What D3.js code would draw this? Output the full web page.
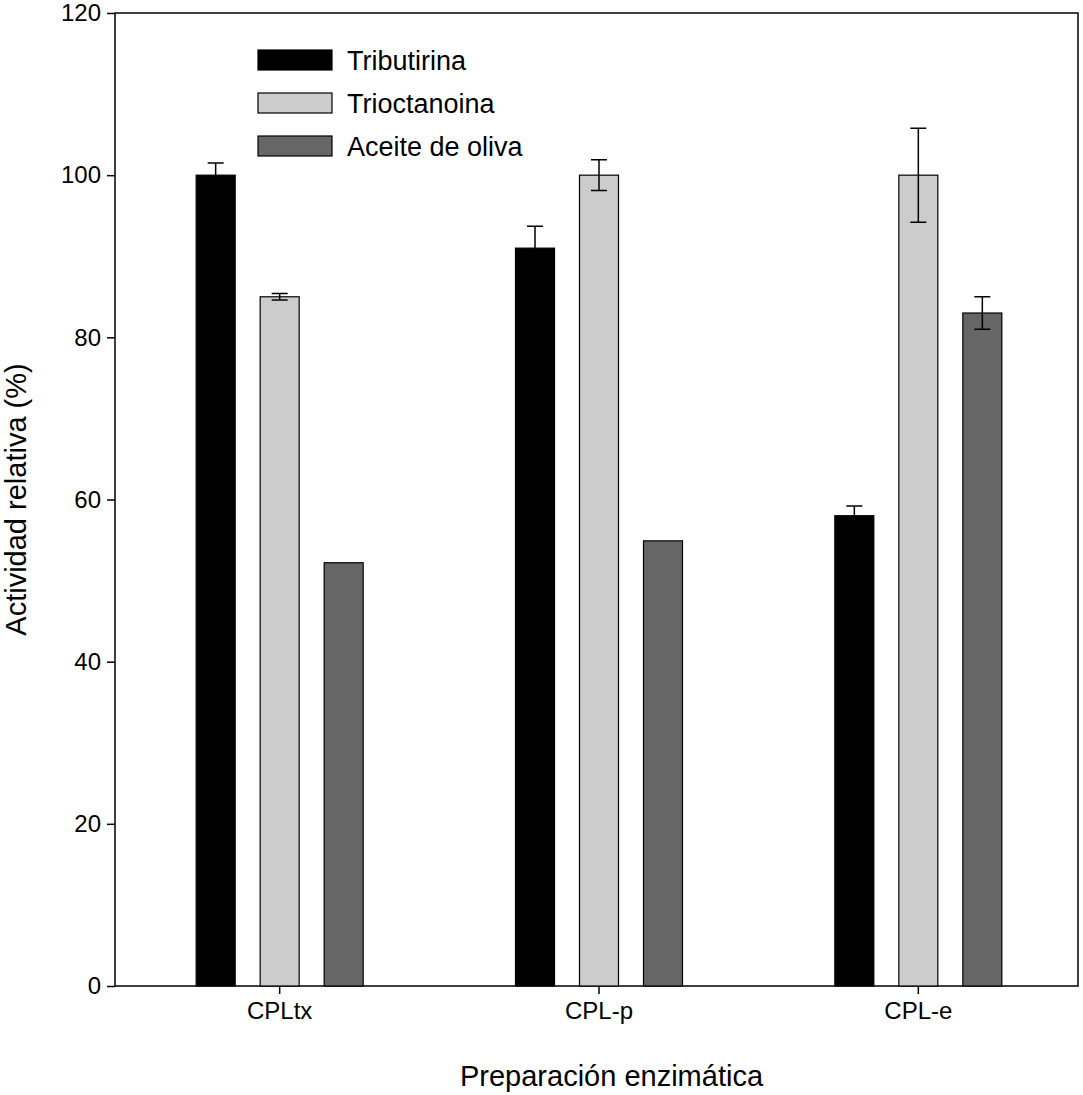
<!DOCTYPE html>
<html><head><meta charset="utf-8">
<script src="https://cdn.jsdelivr.net/npm/d3@7"></script>
<style>body{margin:0;background:#fff}text{font-family:Arial,"Liberation Sans",sans-serif}</style>
</head><body><svg></svg>
<script>
const categories = ["CPLtx", "CPL-p", "CPL-e"];
const seriesNames = ["Tributirina", "Trioctanoina", "Aceite de oliva"];
const colors = ["#000000", "#cccccc", "#666666"];
const values = [
  [100, 91, 58],
  [85, 100, 100],
  [52.2, 54.9, 83]
];
const errors = [
  [1.5, 2.7, 1.2],
  [0.4, 1.9, 5.8],
  [0, 0, 2]
];
const yTicks = [0, 20, 40, 60, 80, 100, 120];

const W = 1083, H = 1095;
const svg = d3.select("svg").attr("width", W).attr("height", H);
const mLeft = 115, mRight = 1078, mTop = 13, mBottom = 986;

const x = d3.scaleBand().domain(categories).range([120, mRight]);
const y = d3.scaleLinear().domain([0, 120]).range([mBottom, mTop]);
const offset = d3.scaleLinear().domain([0, 2]).range([-64, 64]);
const bw = 39;

svg.append("rect").attr("x", mLeft).attr("y", mTop).attr("width", mRight - mLeft).attr("height", mBottom - mTop)
  .attr("fill", "none").attr("stroke", "#000").attr("stroke-width", 1.5);

seriesNames.forEach((s, si) => {
  const g = svg.append("g");
  categories.forEach((c, ci) => {
    const cx = x(c) + x.bandwidth() / 2 + offset(si);
    const v = values[si][ci], e = errors[si][ci];
    g.append("rect").attr("x", cx - bw / 2).attr("y", y(v)).attr("width", bw).attr("height", y(0) - y(v))
      .attr("fill", colors[si]).attr("stroke", "#000").attr("stroke-width", 1.2);
    if (e > 0) {
      g.append("path").attr("d", `M${cx},${y(v - e)}V${y(v + e)}M${cx - 8},${y(v + e)}H${cx + 8}M${cx - 8},${y(v - e)}H${cx + 8}`)
        .attr("stroke", "#000").attr("stroke-width", 1.5).attr("fill", "none");
    }
  });
});

const yAxis = svg.append("g").attr("transform", `translate(${mLeft},0)`)
  .call(d3.axisLeft(y).tickValues(yTicks).tickSize(8).tickPadding(6));
const xAxis = svg.append("g").attr("transform", `translate(0,${mBottom})`)
  .call(d3.axisBottom(x).tickSize(8).tickPadding(8));
[yAxis, xAxis].forEach(a => {
  a.select(".domain").remove();
  a.selectAll("line").attr("stroke-width", 1.5);
  a.selectAll("text").attr("font-size", 24).attr("fill", "#000")
    .style("font-family", "Arial, 'Liberation Sans', sans-serif");
});

svg.append("text").attr("x", (mLeft + mRight) / 2 + 15).attr("y", 1086).attr("text-anchor", "middle")
  .attr("font-size", 29).text("Preparación enzimática");
svg.append("text").attr("transform", `translate(26,${(mTop + mBottom) / 2})rotate(-90)`).attr("text-anchor", "middle")
  .attr("font-size", 29).text("Actividad relativa (%)");

const leg = svg.append("g").attr("transform", "translate(258,50)");
seriesNames.forEach((s, i) => {
  leg.append("rect").attr("x", 0).attr("y", i * 43).attr("width", 74).attr("height", 20)
    .attr("fill", colors[i]).attr("stroke", "#000").attr("stroke-width", 1.2);
  leg.append("text").attr("x", 89).attr("y", i * 43 + 20).attr("font-size", 27).text(s);
});
</script></body></html>
